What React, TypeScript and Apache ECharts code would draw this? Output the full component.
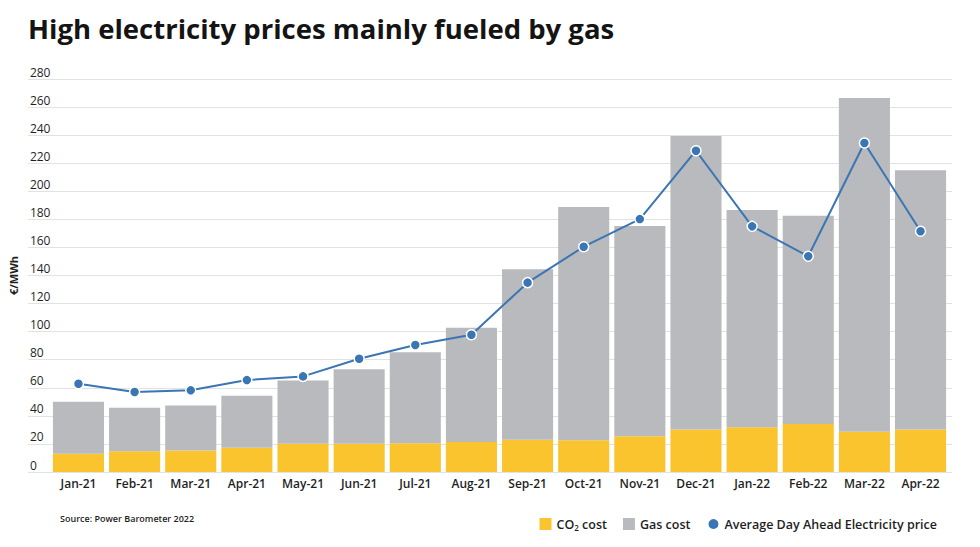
import React, { useEffect, useRef } from "react";
import * as echarts from "echarts";

const categories = ["Jan-21", "Feb-21", "Mar-21", "Apr-21", "May-21", "Jun-21", "Jul-21", "Aug-21", "Sep-21", "Oct-21", "Nov-21", "Dec-21", "Jan-22", "Feb-22", "Mar-22", "Apr-22"];
const co2Cost = [13, 14.7, 15.4, 17.3, 20.2, 20.2, 20.4, 21.4, 23, 22.6, 25.4, 30.2, 31.8, 34.2, 28.7, 30.2];
const gasCost = [37, 31, 32, 37, 45, 53, 65, 81.4, 121.4, 166.2, 149.9, 209.2, 154.9, 148.4, 237.8, 184.7];
const electricityPrice = [62.9, 57, 58.2, 65.5, 68.1, 80.7, 90.5, 97.8, 134.9, 160.5, 180.2, 228.9, 175, 153.7, 234.4, 171.5];
const yMin = 0;
const yMax = 280;
const yInterval = 20;

const FONT = "'Open Sans', 'Noto Sans', sans-serif";
const TEXT = "#1f1f1f";

export default function App() {
  const ref = useRef<HTMLDivElement>(null);
  useEffect(() => {
    if (!ref.current) return;
    const chart = echarts.init(ref.current, undefined, { renderer: "svg" });
    chart.setOption({
      animation: false,
      backgroundColor: "#ffffff",
      textStyle: { fontFamily: FONT, color: TEXT },
      title: {
        text: "High electricity prices mainly fueled by gas",
        left: 23,
        top: 9,
        textStyle: { fontFamily: FONT, fontSize: 27.5, fontWeight: 700, color: "#141414" },
      },
      legend: {
        right: 38,
        top: 512,
        itemWidth: 12,
        itemHeight: 12,
        itemGap: 16,
        textStyle: {
          fontFamily: FONT,
          fontSize: 12.5,
          fontWeight: 600,
          color: TEXT,
          rich: {
            a: { fontFamily: FONT, fontSize: 12.5, fontWeight: 600, color: TEXT },
            s: { fontFamily: FONT, fontSize: 8, fontWeight: 600, color: TEXT, verticalAlign: "bottom", padding: [6, 0, 0, 0] },
          },
        },
        formatter: (name: string) => (name === "CO2 cost" ? "{a|CO}{s|2}{a| cost}" : "{a|" + name + "}"),
        data: [
          { name: "CO2 cost", icon: "rect" },
          { name: "Gas cost", icon: "rect" },
          { name: "Average Day Ahead Electricity price", icon: "circle" },
        ],
      },
      graphic: [
        {
          type: "text",
          left: 60,
          top: 514,
          style: { text: "Source: Power Barometer 2022", fontFamily: FONT, fontSize: 9, fontWeight: 600, fill: TEXT },
        },
      ],
      grid: [
        { left: 50.4, right: 31.4, top: 79, bottom: 75 },
        { left: 25, right: 28, top: 79, bottom: 75 },
      ],
      xAxis: [
        {
          type: "category",
          gridIndex: 0,
          data: categories,
          axisLine: { show: false },
          axisTick: { show: false },
          axisLabel: { fontFamily: FONT, fontSize: 12, fontWeight: 600, color: TEXT, margin: 5 },
        },
        { type: "value", gridIndex: 1, show: false, min: 0, max: 1 },
      ],
      yAxis: [
        {
          type: "value",
          gridIndex: 0,
          min: yMin,
          max: yMax,
          interval: yInterval,
          show: false,
          splitLine: { show: false },
        },
        {
          type: "value",
          gridIndex: 1,
          min: yMin,
          max: yMax,
          interval: yInterval,
          name: "€/MWh",
          nameLocation: "middle",
          nameRotate: 90,
          nameGap: 6,
          nameTextStyle: { fontFamily: FONT, fontSize: 11, fontWeight: 700, color: TEXT },
          axisLine: { show: false },
          axisTick: { show: false },
          splitLine: { show: true, lineStyle: { color: "#e2e2e2", width: 1 } },
          axisLabel: {
            inside: true,
            margin: 2,
            verticalAlign: "bottom",
            padding: [0, 0, 1, 0],
            fontFamily: FONT,
            fontSize: 12,
            fontWeight: 500,
            color: TEXT,
          },
        },
      ],
      series: [
        {
          name: "CO2 cost",
          type: "bar",
          stack: "cost",
          xAxisIndex: 0,
          yAxisIndex: 0,
          data: co2Cost,
          barCategoryGap: "9%",
          itemStyle: { color: "#fac42e" },
        },
        {
          name: "Gas cost",
          type: "bar",
          stack: "cost",
          xAxisIndex: 0,
          yAxisIndex: 0,
          data: gasCost,
          barCategoryGap: "9%",
          itemStyle: { color: "#b8babd" },
        },
        {
          name: "Average Day Ahead Electricity price",
          type: "line",
          xAxisIndex: 0,
          yAxisIndex: 0,
          data: electricityPrice,
          z: 5,
          symbol: "circle",
          symbolSize: 10,
          lineStyle: { color: "#3a75b4", width: 2 },
          itemStyle: { color: "#3a75b4", borderColor: "#ffffff", borderWidth: 1.5 },
        },
      ],
    });
    return () => chart.dispose();
  }, []);
  return <div ref={ref} style={{ position: "fixed", left: 0, top: 0, width: 980, height: 547 }} />;
}
